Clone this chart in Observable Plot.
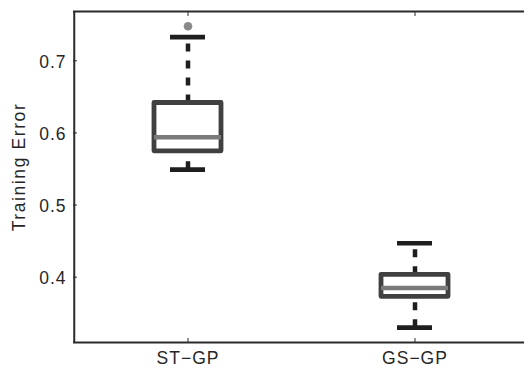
<!DOCTYPE html>
<html>
<head>
<meta charset="utf-8">
<script src="https://cdn.jsdelivr.net/npm/d3@7"></script>
<script src="https://cdn.jsdelivr.net/npm/@observablehq/plot@0.6"></script>
<style>
  body { margin: 0; background: #fff; }
  #chart svg { display: block; overflow: hidden; }
  #chart svg text { letter-spacing: 1px; }
  #chart svg .ylab text { letter-spacing: 1.6px; }
</style>
</head>
<body>
<div id="chart"></div>
<script>
// ---- data ----
const methods = ["ST-GP", "GS-GP"];
const xLabels = ["ST\u2212GP", "GS\u2212GP"];
const whiskerLow = [0.549, 0.330];
const q1 = [0.5745, 0.3727];
const median = [0.594, 0.3849];
const q3 = [0.6415, 0.4033];
const whiskerHigh = [0.733, 0.447];
const outlierMethod = ["ST-GP"];
const outlierValue = [0.748];
const yTicks = [0.4, 0.5, 0.6, 0.7];
const yDomain = [0.3094, 0.7684];
const yLabel = "Training Error";

const boxes = methods.map((m, i) => ({
  method: m, lo: whiskerLow[i], q1: q1[i], med: median[i], q3: q3[i], hi: whiskerHigh[i]
}));
const outliers = outlierMethod.map((m, i) => ({method: m, value: outlierValue[i]}));
const labelOf = new Map(methods.map((m, i) => [m, xLabels[i]]));

const textColor = "#262626";
const whiskerColor = "#1e1e1e";
const frameColor = "#2a2a2a";
const fs = 17.5;

const W = 524, H = 370, ML = 73, MR = 0, XR = 528;
const step = (XR - ML) / methods.length; // band step: first band centre sits half a step from the left edge

const chart = Plot.plot({
  width: W,
  height: H,
  marginLeft: ML,
  marginRight: MR,
  marginTop: 11,
  marginBottom: 28,
  style: {fontFamily: "'Liberation Sans', Arial, Helvetica, sans-serif", fontSize: fs + "px", color: textColor, background: "#fff", overflow: "hidden"},
  x: {type: "band", domain: methods, range: [ML, XR], paddingInner: 0.706, paddingOuter: 0.353},
  y: {domain: yDomain},
  marks: [
    // whiskers (dashed), drawn from lower value to upper value
    Plot.ruleX(boxes, {x: "method", y1: "lo", y2: "q1", stroke: whiskerColor, strokeWidth: 4.5, strokeDasharray: "8,9"}),
    Plot.ruleX(boxes, {x: "method", y1: "q3", y2: "hi", stroke: whiskerColor, strokeWidth: 4.5, strokeDasharray: "8,9"}),
    // boxes
    Plot.rectY(boxes, {x: "method", y1: "q1", y2: "q3", fill: "white", stroke: "#404040", strokeWidth: 4.8, strokeLinejoin: "round"}),
    // medians
    Plot.tickY(boxes, {x: "method", y: "med", stroke: "#7a7a7a", strokeWidth: 4.5}),
    // caps
    Plot.tickY(boxes, {x: "method", y: "hi", stroke: whiskerColor, strokeWidth: 4.7, insetLeft: 16, insetRight: 16}),
    Plot.tickY(boxes, {x: "method", y: "lo", stroke: whiskerColor, strokeWidth: 4.7, insetLeft: 16, insetRight: 16}),
    // outliers
    Plot.dot(outliers, {x: "method", y: "value", r: 4.3, fill: "#8a8a8a", stroke: null}),
    // axes
    Plot.axisY(yTicks, {tickSize: 0, tickPadding: 7, tickFormat: d => d.toFixed(1), label: null, fill: textColor, fontSize: fs, dy: 1.5}),
    Plot.axisY(yTicks, {tickSize: -4, text: null, label: null, stroke: frameColor}),
    Plot.axisX(methods, {anchor: "bottom", tickSize: 0, tickPadding: 9, tickFormat: d => labelOf.get(d), label: null, fill: textColor, fontSize: fs}),
    Plot.axisX(methods, {anchor: "bottom", tickSize: -4, text: null, label: null, stroke: frameColor}),
    Plot.axisX(methods, {anchor: "top", tickSize: -4, text: null, label: null, stroke: frameColor}),
    Plot.text([yLabel], {frameAnchor: "left", text: d => d, textAnchor: "middle", rotate: -90, dx: -54, dy: -10, fill: textColor, fontSize: fs, className: "ylab"}),
    // axes box: top and bottom edges, and the left edge (the right edge lies outside the picture)
    Plot.ruleY(yDomain, {stroke: frameColor, strokeWidth: 2}),
    Plot.ruleX([methods[0]], {x: d => d, dx: -step / 2, stroke: frameColor, strokeWidth: 2})
  ]
});
document.getElementById("chart").appendChild(chart);
</script>
</body>
</html>
